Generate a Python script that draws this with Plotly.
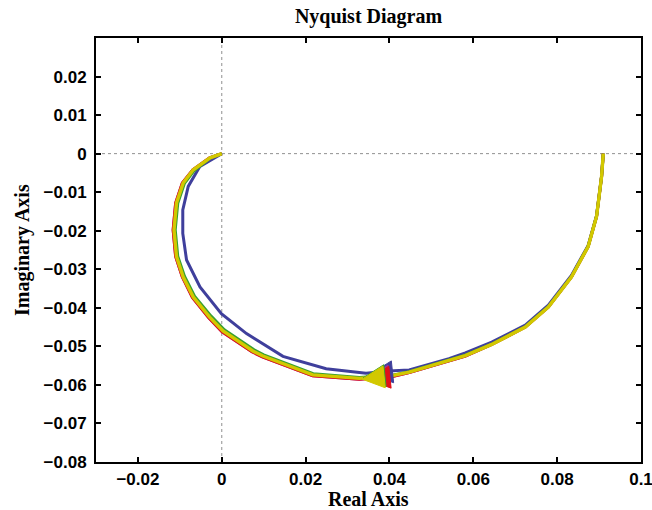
import plotly.graph_objects as go
import math

# ---------------- data ----------------
yellow_re = [0.0910, 0.0906, 0.0894, 0.0874, 0.0834, 0.0779, 0.0724, 0.0644, 0.0581, 0.0518,
             0.0447, 0.0407, 0.0328, 0.0217, 0.0154, 0.0098, 0.0074, 0.0003, -0.0029, -0.0068,
             -0.0092, -0.0108, -0.0114, -0.0108, -0.0092, -0.0068, -0.0028, 0.0000]
yellow_im = [0.0000, -0.0059, -0.0163, -0.0241, -0.0320, -0.0398, -0.0450, -0.0495, -0.0524, -0.0545,
             -0.0567, -0.0576, -0.0583, -0.0574, -0.0548, -0.0525, -0.0512, -0.0460, -0.0424, -0.0372,
             -0.0320, -0.0267, -0.0198, -0.0128, -0.0076, -0.0042, -0.0011, 0.0000]

red_re = [0.0910, 0.0906, 0.0894, 0.0874, 0.0834, 0.0779, 0.0724, 0.0644, 0.0581, 0.0518,
          0.0447, 0.0407, 0.0328, 0.0217, 0.0153, 0.0097, 0.0072, 0.0001, -0.0031, -0.0070,
          -0.0094, -0.0110, -0.0116, -0.0110, -0.0094, -0.0069, -0.0029, 0.0000]
red_im = [0.0000, -0.0059, -0.0163, -0.0241, -0.0320, -0.0398, -0.0450, -0.0495, -0.0525, -0.0546,
          -0.0568, -0.0578, -0.0585, -0.0576, -0.0550, -0.0527, -0.0514, -0.0462, -0.0426, -0.0373,
          -0.0320, -0.0267, -0.0198, -0.0128, -0.0076, -0.0042, -0.0011, 0.0000]

green_re = [0.0910, 0.0906, 0.0894, 0.0874, 0.0834, 0.0779, 0.0724, 0.0644, 0.0581, 0.0518,
            0.0447, 0.0407, 0.0328, 0.0218, 0.0156, 0.0100, 0.0077, 0.0006, -0.0026, -0.0065,
            -0.0089, -0.0105, -0.0111, -0.0105, -0.0089, -0.0065, -0.0027, 0.0000]
green_im = [0.0000, -0.0059, -0.0162, -0.0240, -0.0319, -0.0397, -0.0449, -0.0494, -0.0523, -0.0544,
            -0.0566, -0.0575, -0.0581, -0.0571, -0.0545, -0.0522, -0.0509, -0.0457, -0.0421, -0.0370,
            -0.0318, -0.0266, -0.0198, -0.0129, -0.0077, -0.0043, -0.0011, 0.0000]

magenta_re = red_re
magenta_im = red_im

blue_re = [0.0910, 0.0906, 0.0894, 0.0874, 0.0834, 0.0779, 0.0724, 0.0644, 0.0581, 0.0542,
           0.0447, 0.0399, 0.0344, 0.0249, 0.0146, 0.0122, 0.0059, -0.0001, -0.0052, -0.0084,
           -0.0093, -0.0093, -0.0080, -0.0052, 0.0000]
blue_im = [0.0000, -0.0058, -0.0161, -0.0238, -0.0316, -0.0393, -0.0445, -0.0489, -0.0517, -0.0532,
           -0.0561, -0.0564, -0.0570, -0.0558, -0.0526, -0.0510, -0.0467, -0.0415, -0.0346, -0.0276,
           -0.0207, -0.0146, -0.0085, -0.0033, 0.0000]

# arrow tip positions (where the direction arrow sits on each curve)
arrow_tip_re = {"blue": 0.0355, "magenta": 0.0347, "red": 0.0349, "green": 0.0337, "yellow": 0.0335}
arrow_tip_im = {"blue": -0.0572, "magenta": -0.0583, "red": -0.0586, "green": -0.0582, "yellow": -0.0585}

x_ticks = [-0.02, 0, 0.02, 0.04, 0.06, 0.08, 0.1]
x_tick_text = ["\u22120.02", "0", "0.02", "0.04", "0.06", "0.08", "0.1"]
y_ticks = [0.02, 0.01, 0, -0.01, -0.02, -0.03, -0.04, -0.05, -0.06, -0.07, -0.08]
y_tick_text = ["0.02", "0.01", "0", "\u22120.01", "\u22120.02", "\u22120.03", "\u22120.04",
               "\u22120.05", "\u22120.06", "\u22120.07", "\u22120.08"]

# ---------------- layout constants ----------------
W, H = 652, 510
ML, MR, MT, MB = 96, 11, 38, 48
XR = [-0.03, 0.1]
YR = [-0.08, 0.03]
px_x = (W - ML - MR) / (XR[1] - XR[0])
px_y = (H - MT - MB) / (YR[1] - YR[0])

colors = {
    "blue": "#3f3f9c",
    "magenta": "#a0309a",
    "red": "#e0101a",
    "green": "#38a030",
    "yellow": "#d2c800",
}
series = [
    ("blue", blue_re, blue_im, 3.0),
    ("magenta", magenta_re, magenta_im, 3.0),
    ("red", red_re, red_im, 3.0),
    ("green", green_re, green_im, 3.0),
    ("yellow", yellow_re, yellow_im, 3.4),
]

fig = go.Figure()

for name, xs, ys, lw in series:
    fig.add_trace(go.Scatter(x=xs, y=ys, mode="lines",
                             line=dict(color=colors[name], width=lw),
                             showlegend=False, hoverinfo="skip"))

# arrows (filled triangles pointing left, slightly tilted down)
ARROW_LEN = 22  # px
ARROW_HALF = 11  # px
tilt = math.radians(6)
for name, xs, ys, lw in series:
    tx, ty = arrow_tip_re[name], arrow_tip_im[name]
    dx, dy = math.cos(tilt), math.sin(tilt)
    bx, by = ARROW_LEN * dx, ARROW_LEN * dy
    nx, ny = -dy, dx
    pts = [(0, 0), (bx + ARROW_HALF * nx, by + ARROW_HALF * ny),
           (bx - ARROW_HALF * nx, by - ARROW_HALF * ny), (0, 0)]
    fig.add_trace(go.Scatter(
        x=[tx + p[0] / px_x for p in pts], y=[ty + p[1] / px_y for p in pts],
        mode="lines", fill="toself", fillcolor=colors[name],
        line=dict(color=colors[name], width=1),
        showlegend=False, hoverinfo="skip"))

# dotted zero lines
fig.add_shape(type="line", x0=0, x1=0, y0=YR[0], y1=YR[1], xref="x", yref="y",
              line=dict(color="#909090", width=1, dash="dot"), layer="below")
fig.add_shape(type="line", x0=XR[0], x1=XR[1], y0=0, y1=0, xref="x", yref="y",
              line=dict(color="#909090", width=1, dash="dot"), layer="below")

tick_font = dict(family="Liberation Sans, Arial, sans-serif", size=17, color="black", weight="bold")
title_font = dict(family="Liberation Serif, Times New Roman, serif", size=20, color="black", weight="bold")

fig.update_layout(
    width=W, height=H, autosize=False,
    margin=dict(l=ML, r=MR, t=MT, b=MB),
    paper_bgcolor="white", plot_bgcolor="white",
    title=dict(text="Nyquist Diagram", x=(ML + (W - ML - MR) / 2) / W, xanchor="center",
               y=1 - 16 / H, yanchor="middle", yref="container", font=title_font),
    xaxis=dict(range=XR, tickvals=x_ticks, ticktext=x_tick_text, tickfont=tick_font,
               showline=True, linecolor="black", linewidth=2, mirror="ticks",
               ticks="inside", ticklen=5, tickwidth=1.5, tickcolor="black",
               showgrid=False, zeroline=False, fixedrange=True, automargin=False,
               ticklabeloverflow="allow", ticklabelstandoff=1),
    yaxis=dict(range=YR, tickvals=y_ticks, ticktext=y_tick_text, tickfont=tick_font,
               showline=True, linecolor="black", linewidth=2, mirror="ticks",
               ticks="inside", ticklen=5, tickwidth=1.5, tickcolor="black",
               showgrid=False, zeroline=False, fixedrange=True, ticklabelstandoff=4,
               automargin=False, ticklabeloverflow="allow"),
    annotations=[
        dict(text="Real Axis", xref="paper", yref="paper", x=0.5, y=0, yshift=-37,
             xanchor="center", yanchor="middle", showarrow=False, font=title_font),
        dict(text="Imaginary Axis", xref="paper", yref="paper", x=0, y=0.5, xshift=-74,
             xanchor="center", yanchor="middle", textangle=-90, showarrow=False, font=title_font),
    ],
)

fig.write_html("out.html", config={"responsive": False, "displayModeBar": False},
               post_script="document.body.style.margin='0px';")
